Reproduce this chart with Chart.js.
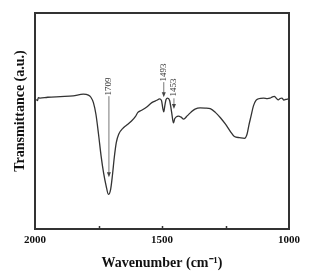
<!DOCTYPE html>
<html>
<head>
<meta charset="utf-8">
<script src="https://cdn.jsdelivr.net/npm/chart.js@4"></script>
<style>
  html, body { margin: 0; padding: 0; background: #fff; }
  #wrap { width: 315px; height: 279px; }
</style>
</head>
<body>
<div id="wrap"><canvas id="ftir"></canvas></div>
<script>
// FTIR spectrum
var wavenumbers = [1995, 1990, 1987, 1980, 1950, 1900, 1850, 1810, 1790, 1780, 1770, 1760, 1750, 1740, 1730, 1720, 1711, 1702, 1695, 1688, 1680, 1670, 1655, 1640, 1620, 1605, 1595, 1580, 1560, 1540, 1520, 1510, 1502, 1497, 1493, 1489, 1484, 1478, 1470, 1462, 1455, 1450, 1445, 1435, 1425, 1415, 1400, 1385, 1370, 1350, 1330, 1310, 1290, 1270, 1250, 1230, 1215, 1195, 1175, 1165, 1158, 1150, 1140, 1130, 1120, 1100, 1085, 1075, 1065, 1058, 1050, 1042, 1035, 1028, 1020, 1012, 1003];
var transmittance = [60.0, 59.5, 60.8, 60.6, 61.0, 61.3, 61.6, 62.4, 62.0, 61.0, 58.5, 53, 44, 34, 26, 20, 16, 18.5, 25, 33, 40, 44, 46.5, 48, 50, 52, 54, 55, 56.5, 58.5, 59.6, 60.2, 59.5, 56, 54.2, 57, 60.0, 60.6, 59.5, 54, 49.1, 51, 51.8, 52.3, 51.8, 50.9, 52.5, 54.2, 55.5, 56.1, 56.0, 55.7, 54.0, 51.5, 48.5, 45.0, 42.8, 42.3, 42.0, 44, 48, 52, 57, 59.5, 60.3, 60.6, 60.4, 60.6, 61.2, 61.4, 60.5, 59.8, 60.4, 60.6, 59.7, 60.0, 60.2];

var tickLabels = [2000, 1500, 1000];

// peak labels: where the text sits and where the arrow ends (in data units)
var peakNames = ['1709', '1493', '1453'];
var peakTextMid = [66, 72.5, 65.5];
var peakArrowFrom = [61.5, 68, 60.5];
var peakArrowTo = [24, 61, 55.5];

var points = wavenumbers.map(function(w, i) {
    return { x: w, y: transmittance[i] };
});

var frameAndLabels = {
    id: 'frameAndLabels',
    afterDraw: function(chart) {
        var c = chart.ctx;
        var a = chart.chartArea;
        var xs = chart.scales.x;
        var ys = chart.scales.y;
        c.save();

        // inward ticks on the bottom axis
        c.strokeStyle = '#333';
        c.lineWidth = 1.5;
        [1750, 1500, 1250].forEach(function(v) {
            var px = Math.round(xs.getPixelForValue(v)) + 0.5;
            c.beginPath();
            c.moveTo(px, a.bottom);
            c.lineTo(px, a.bottom - 3);
            c.stroke();
        });

        // box
        c.lineWidth = 2;
        c.strokeStyle = '#333';
        c.strokeRect(a.left, a.top, a.right - a.left, a.bottom - a.top);

        // peak arrows
        c.strokeStyle = '#555';
        c.fillStyle = '#444';
        c.lineWidth = 0.8;
        peakNames.forEach(function(name, i) {
            var px = xs.getPixelForValue(Number(name));
            var y0 = ys.getPixelForValue(peakArrowFrom[i]);
            var y1 = ys.getPixelForValue(peakArrowTo[i]);
            c.beginPath();
            c.moveTo(px, y0);
            c.lineTo(px, y1 - 4);
            c.stroke();
            c.beginPath();
            c.moveTo(px, y1);
            c.lineTo(px - 2, y1 - 5);
            c.lineTo(px + 2, y1 - 5);
            c.closePath();
            c.fill();

            c.save();
            c.translate(px, ys.getPixelForValue(peakTextMid[i]));
            c.rotate(-Math.PI / 2);
            c.font = '9px "Liberation Serif"';
            c.fillStyle = '#333';
            c.textAlign = 'center';
            c.textBaseline = 'middle';
            c.fillText(name, 0, 0);
            c.restore();
        });

        // y title
        c.save();
        c.translate(20, 111);
        c.rotate(-Math.PI / 2);
        c.font = 'bold 14px "Liberation Serif"';
        c.fillStyle = '#111';
        c.textAlign = 'center';
        c.textBaseline = 'middle';
        c.fillText('Transmittance (a.u.)', 0, 0);
        c.restore();

        c.restore();
    }
};

new Chart(document.getElementById('ftir'), {
    type: 'line',
    data: {
        datasets: [{
            data: points,
            borderColor: '#333',
            borderWidth: 1.3,
            pointRadius: 0,
            fill: false,
            cubicInterpolationMode: 'monotone'
        }]
    },
    options: {
        responsive: true,
        maintainAspectRatio: false,
        animation: false,
        layout: { padding: { left: 35, right: 26, top: 13, bottom: 0 } },
        plugins: {
            legend: { display: false },
            tooltip: { enabled: false }
        },
        scales: {
            x: {
                type: 'linear',
                reverse: true,
                min: 1000,
                max: 2000,
                grid: { display: false, drawTicks: false },
                border: { display: false },
                afterFit: function(s) { s.height = 50; },
                afterBuildTicks: function(s) {
                    s.ticks = tickLabels.map(function(v) { return { value: v }; });
                },
                ticks: {
                    padding: 5,
                    color: '#111',
                    maxRotation: 0,
                    callback: function(v) { return String(v); },
                    font: { family: '"Liberation Serif"', size: 11, weight: 'bold' }
                },
                title: {
                    display: true,
                    text: 'Wavenumber (cm\u207B\u00B9)',
                    color: '#111',
                    padding: { top: 5, bottom: 7 },
                    font: { family: '"Liberation Serif"', size: 14, weight: 'bold' }
                }
            },
            y: {
                display: false,
                min: 0,
                max: 100
            }
        }
    },
    plugins: [frameAndLabels]
});
</script>
</body>
</html>
